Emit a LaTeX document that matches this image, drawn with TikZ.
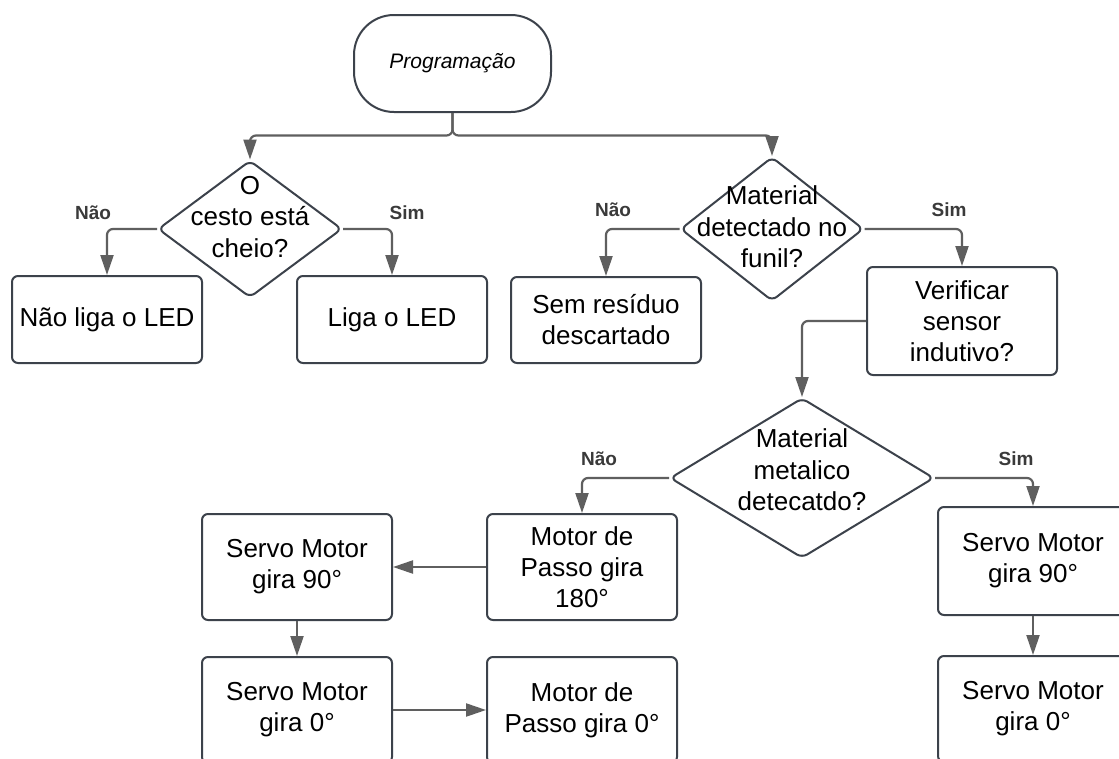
\documentclass[tikz,border=0pt]{standalone}
\usepackage{fontspec}
\setmainfont{Liberation Sans}
\usetikzlibrary{shapes.geometric,arrows.meta}
\definecolor{edgec}{HTML}{3C424B}
\definecolor{connc}{HTML}{5F5F5F}
\definecolor{labc}{HTML}{3A3A3A}
\tikzset{
 procbox/.style={draw=edgec, line width=2pt, rounded corners=6pt, minimum width=190pt, inner sep=0pt, align=center, font=\fontsize{26}{31}\selectfont},
 decision/.style={draw=edgec, line width=2pt, shape=diamond, rounded corners=6pt, inner sep=0pt},
 dtext/.style={align=center, font=\fontsize{26}{31.5}\selectfont, inner sep=0pt},
 conn/.style={draw=connc, line width=2.2pt, rounded corners=6pt, -{Triangle[length=20pt,width=13pt]}},
 yn/.style={font=\fontsize{19}{22}\selectfont\bfseries, text=labc, inner sep=0pt}
}
\begin{document}
\begin{tikzpicture}[x=1pt,y=-1pt]
\useasboundingbox (0,0) rectangle (1119,758);
\fill[white] (0,0) rectangle (1119,758);
\clip (0,0) rectangle (1119,758);

% start terminal
\node[draw=edgec, line width=2pt, rounded corners=40pt, minimum width=197pt, minimum height=97pt, inner sep=0pt,
      font=\fontsize{21}{25}\selectfont\itshape] (start) at (452.5,63.5) {Programação};

% decisions
\node[decision, minimum width=184pt, minimum height=137pt] (d1) at (250,229) {};
\node[dtext] (t1) at (250,217) {O\\cesto está\\cheio?};
\node[decision, minimum width=183pt, minimum height=144pt] (d2) at (772,229) {};
\node[dtext] (t2) at (772,227) {Material\\detectado no\\funil?};
\node[decision, minimum width=264pt, minimum height=160pt] (d3) at (802,478) {};
\node[dtext] (t3) at (802,470) {Material\\metalico\\detecatdo?};

% boxes
\node[procbox, minimum height=87pt] (naoled) at (107,319.5) {Não liga o LED};
\node[procbox, minimum height=87pt] (ligaled) at (392,319.5) {Liga o LED};
\node[procbox, minimum height=86pt] (sem) at (606,320) {Sem resíduo\\descartado};
\node[procbox, minimum height=108pt] (verif) at (962,321) {Verificar\\sensor\\indutivo?};
\node[procbox, minimum height=106pt] (s90L) at (297,567) {Servo Motor\\gira 90°};
\node[procbox, minimum height=106pt] (m180) at (582,567) {Motor de\\Passo gira\\180°};
\node[procbox, minimum height=108pt] (s90R) at (1033,561) {Servo Motor\\gira 90°};
\node[procbox, minimum height=106pt] (s0L) at (297,710) {Servo Motor\\gira 0°};
\node[procbox, minimum height=106pt] (m0) at (582,710) {Motor de\\Passo gira 0°};
\node[procbox, minimum height=106pt] (s0R) at (1033,709) {Servo Motor\\gira 0°};

% labels
\node[yn] (n1) at (93,213) {Não};
\node[yn] (y1) at (407,213) {Sim};
\node[yn] (n2) at (613,210) {Não};
\node[yn] (y2) at (949,210) {Sim};
\node[yn] (n3) at (599,459) {Não};
\node[yn] (y3) at (1016,459) {Sim};

% connectors
\coordinate (split) at ([yshift=-22.5pt]start.south);
\draw[conn] (start.south) -- (split) -| (d1.north);
\draw[conn] (start.south) -- (split) -| (d2.north);
\draw[conn] (d1.west) -| (naoled.north);
\draw[conn] (d1.east) -| (ligaled.north);
\draw[conn] (d2.west) -| (sem.north);
\draw[conn] (d2.east) -| (verif.north);
\draw[conn] (verif.west) -| (d3.north);
\draw[conn] (d3.west) -| (m180.north);
\draw[conn] (d3.east) -| (s90R.north);
\draw[conn] (m180.west) -- (s90L.east);
\draw[conn] (s90L.south) -- (s0L.north);
\draw[conn] (s0L.east) -- (m0.west);
\draw[conn] (s90R.south) -- (s0R.north);
\end{tikzpicture}
\end{document}
